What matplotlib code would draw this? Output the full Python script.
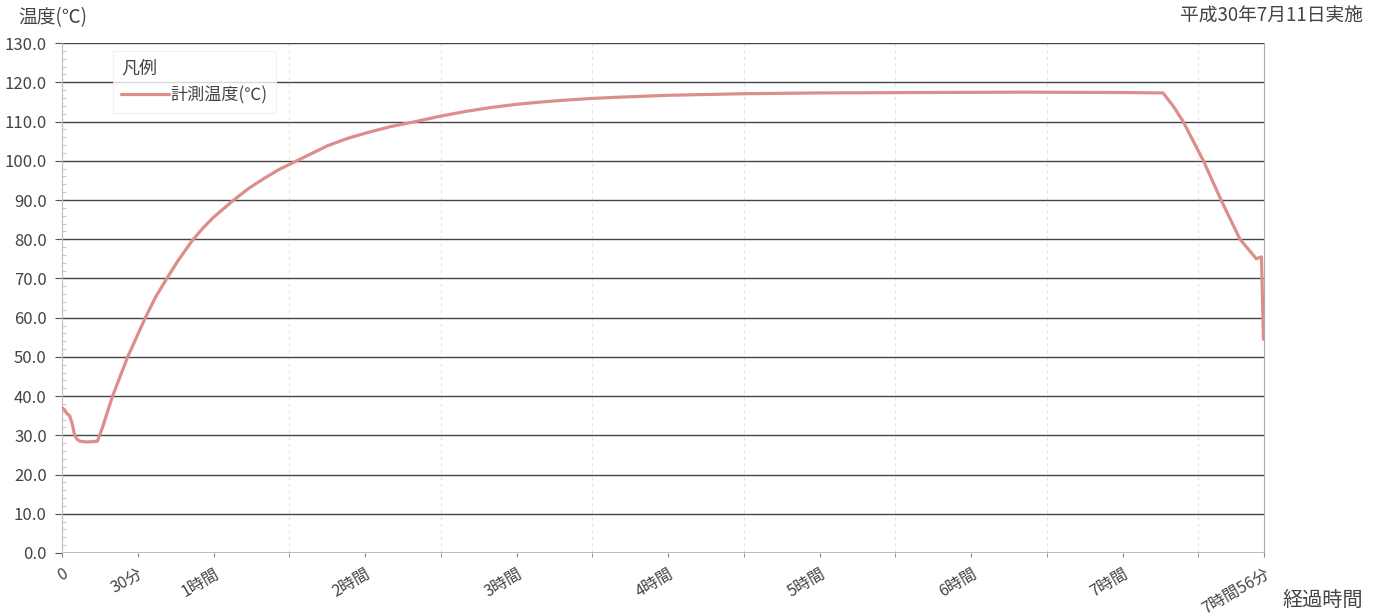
import numpy as np
import matplotlib.pyplot as plt
from matplotlib.ticker import MultipleLocator

plt.rcParams['font.family'] = ['Noto Sans CJK JP', 'DejaVu Sans']

minutes = [0, 1, 2, 3, 4, 5, 6, 7, 10, 14, 16, 20, 26, 33, 37, 41.5, 46,
           51.5, 56, 60, 68, 74, 80, 86, 93, 105, 113, 121, 130, 140, 150,
           160, 170, 180, 190, 200, 210, 220, 240, 270, 300, 340, 380, 420,
           436, 440, 444, 452, 459, 466.5, 473, 475, 475.8]
temps = [37, 36.5, 35.5, 35, 33, 30, 29, 28.5, 28.3, 28.5, 32, 40, 50, 60,
         65.2, 70, 74.6, 79.6, 83, 85.6, 90, 93, 95.5, 97.8, 100, 103.8,
         105.7, 107.2, 108.7, 110, 111.4, 112.6, 113.6, 114.4, 115.0, 115.5,
         115.9, 116.2, 116.7, 117.1, 117.3, 117.4, 117.5, 117.4, 117.3, 114,
         110, 100, 90, 80, 75, 75.5, 54.5]

tick_pos = [0, 30, 60, 120, 180, 240, 300, 360, 420, 476]
tick_lab = ['0', '30分', '1時間', '2時間', '3時間', '4時間', '5時間', '6時間',
            '7時間', '7時間56分']

fig = plt.figure(figsize=(13.82, 6.16), dpi=100)
ax = fig.add_axes([0.0449, 0.1023, 0.8697, 0.8277])

ax.plot(minutes, temps, color='#dc8e8a', lw=2.3, label='計測温度(℃)',
        solid_capstyle='round', solid_joinstyle='round', zorder=3)

ax.set_xlim(0, 476)
ax.set_ylim(0, 130)
ax.set_yticks(np.arange(0, 131, 10))
ax.set_yticklabels([f'{v:.1f}' for v in np.arange(0, 131, 10)])
ax.yaxis.set_minor_locator(MultipleLocator(2))

ax.set_xticks(tick_pos)
ax.set_xticklabels(tick_lab, rotation=30, ha='right', rotation_mode='anchor')
ax.set_xticks(np.arange(30, 476, 30), minor=True)

ax.grid(axis='y', which='major', color='#454545', lw=1.0)
ax.grid(axis='x', which='minor', color='#e6e6e0', lw=0.8, ls=(0, (3, 3)))

for s in ['top', 'bottom']:
    ax.spines[s].set_visible(False)
ax.spines['left'].set_color('#bbbbbb')
ax.spines['left'].set_linewidth(0.8)
ax.spines['right'].set_color('#aaaaaa')
ax.spines['right'].set_linewidth(0.8)
ax.axhline(0, color='#454545', lw=1.0, zorder=2)

ax.tick_params(axis='y', which='major', length=5, color='#555555',
               labelsize=12, labelcolor='#444444', pad=6)
ax.tick_params(axis='y', which='minor', length=3, direction='in',
               color='#bbbbbb')
ax.tick_params(axis='x', which='both', length=3, color='#888888',
               labelsize=11.5, labelcolor='#444444', pad=6)

leg = ax.legend(title='凡例', loc='upper left', bbox_to_anchor=(0.042, 0.985),
                frameon=True, fontsize=12.3, title_fontsize=13,
                alignment='left', handlelength=2.8, handletextpad=0.1,
                borderaxespad=0, borderpad=0.5, fancybox=False)
leg.get_frame().set_edgecolor('#eeeeee')
leg.get_frame().set_linewidth(0.8)
for t in leg.get_texts():
    t.set_color('#444444')
leg.get_title().set_color('#444444')

fig.text(0.013, 0.971, '温度(℃)', fontsize=13.5, color='#444444',
         va='center', ha='left')
fig.text(0.986, 0.973, '平成30年7月11日実施', fontsize=13.5, color='#444444',
         va='center', ha='right')
fig.text(0.986, 0.025, '経過時間', fontsize=14.5, color='#444444',
         va='center', ha='right')

fig.savefig('out.png', dpi=100, facecolor='white')
